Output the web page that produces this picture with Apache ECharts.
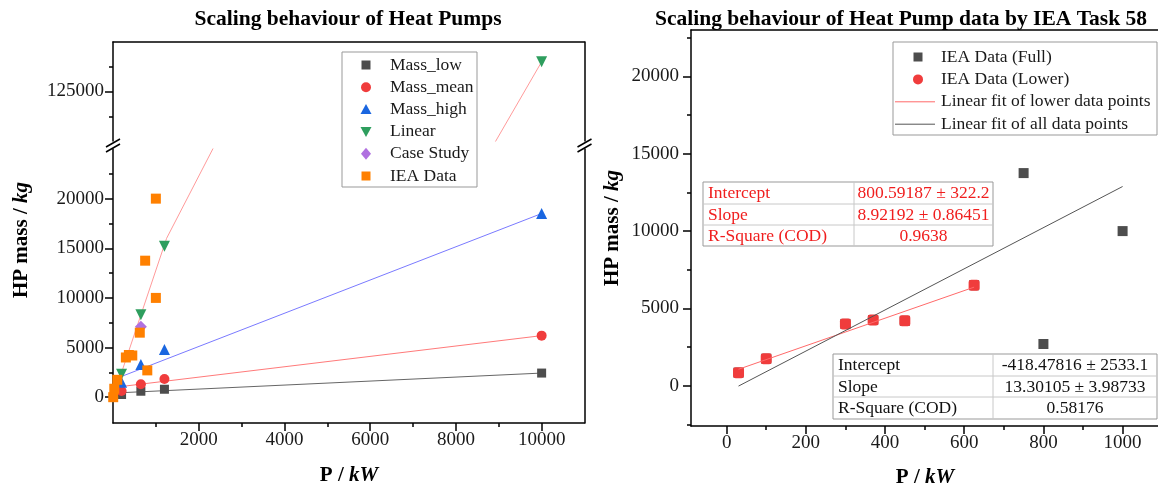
<!DOCTYPE html>
<html><head><meta charset="utf-8">
<script src="https://cdn.jsdelivr.net/npm/echarts@6.0.0/dist/echarts.min.js"></script>
<style>html,body{margin:0;padding:0;background:#fff}#c{width:1158px;height:493px}</style>
</head><body><div id="c"></div>
<script>
// ---------- data (left panel) ----------
const powerKW      = [200, 650, 1200, 10000];
const massLow      = [270, 600, 800, 2430];
const massMean     = [630, 1300, 1830, 6200];
const massHigh     = [1500, 3300, 4800, 18500];
const linearMass   = [2300, 8300, 15200, 131000];
const caseStudyP   = [650];
const caseStudyMass= [7100];
const ieaLeftP     = [5, 30, 100, 300, 370, 450, 625, 750, 800, 1000, 1000];
const ieaLeftMass  = [0, 850, 1750, 4000, 4250, 4200, 6500, 13750, 2700, 10000, 20000];
// fit lines (end points)
const lowFitP   = [30, 10000],  lowFitMass  = [420, 2430];
const meanFitP  = [30, 10000],  meanFitMass = [990, 6200];
const highFitP  = [140, 10000], highFitMass = [1990, 18500];
const linCurveP = [100, 1250, 2400, 8930, 10000];
const linCurveMass = [1200, 16000, 25600, 115000, 131000];
// ---------- data (right panel) ----------
const ieaFullP     = [30, 100, 300, 370, 450, 625, 750, 800, 1000];
const ieaFullMass  = [850, 1750, 4000, 4250, 4200, 6500, 13750, 2700, 10000];
const ieaLowerP    = [30, 100, 300, 370, 450, 625];
const ieaLowerMass = [850, 1750, 4000, 4250, 4200, 6500];
const lowerFitP = [30, 625],  lowerFitMass = [1068, 6376];
const allFitP   = [30, 1000], allFitMass   = [-19, 12882];
// ---------- text ----------
const leftTitle  = 'Scaling behaviour of Heat Pumps';
const rightTitle = 'Scaling behaviour of Heat Pump data by IEA Task 58';
const leftLegend  = ['Mass_low', 'Mass_mean', 'Mass_high', 'Linear', 'Case Study', 'IEA Data'];
const rightLegend = ['IEA Data (Full)', 'IEA Data (Lower)', 'Linear fit of lower data points', 'Linear fit of all data points'];
const tableRows = ['Intercept', 'Slope', 'R-Square (COD)'];
const tableLower = ['800.59187 \u00b1 322.2', '8.92192 \u00b1 0.86451', '0.9638'];
const tableAll   = ['-418.47816 \u00b1 2533.1', '13.30105 \u00b1 3.98733', '0.58176'];
// tick values
const leftXLabels = [2000, 4000, 6000, 8000, 10000];
const leftXMinor  = [1000, 3000, 5000, 7000, 9000];
const leftYLabels = [0, 5000, 10000, 15000, 20000];
const leftYMinor  = [2500, 7500, 12500, 17500, 22500];
const leftYUpperLabels = [125000];
const leftYUpperMinor  = [120000, 130000];
const rightXLabels = [0, 200, 400, 600, 800, 1000];
const rightXMinor  = [100, 300, 500, 700, 900];
const rightYLabels = [0, 5000, 10000, 15000, 20000];
const rightYMinor  = [-2500, 2500, 7500, 12500, 17500, 22500];

const FONT = '"Liberation Serif","Times New Roman",serif';
const TXT = '#1a1a1a';
const C = {low:'#4d4d4d', mean:'#f03c3c', high:'#1a66e0', lin:'#2e9e5e', cs:'#b070e0', iea:'#ff8000'};
const zip = (a, b) => a.map((v, i) => [v, b[i]]);

const AXW = 1.5;
function ax(extra) {
  return Object.assign({
    type: 'value', splitLine: {show: false},
    axisLine: {show: false, onZero: false},
    axisTick: {show: false}, axisLabel: {show: false}
  }, extra);
}
function mainAx(grid, pos, min, max, labels, margin) {
  return ax({gridIndex: grid, position: pos, min, max,
    axisLine: {show: true, onZero: false, lineStyle: {color: '#000', width: AXW}},
    axisTick: {show: true, length: 8, customValues: labels, lineStyle: {color: '#000', width: AXW}},
    axisLabel: {show: true, customValues: labels, fontFamily: FONT, fontSize: 19, color: TXT, margin,
      formatter: v => String(v)}});
}
function minorAx(grid, pos, min, max, vals) {
  return ax({gridIndex: grid, position: pos, min, max,
    axisTick: {show: true, length: 4, customValues: vals, lineStyle: {color: '#000', width: AXW}}});
}
function lineAx(grid, pos, min, max) {
  return ax({gridIndex: grid, position: pos, min, max,
    axisLine: {show: true, onZero: false, lineStyle: {color: '#000', width: AXW}}});
}

const xAxis = [
  lineAx(0, 'top', 0, 11000),                                  // 0 upper-left (top border)
  mainAx(1, 'bottom', 0, 11000, leftXLabels, 8),               // 1 lower-left
  minorAx(1, 'bottom', 0, 11000, leftXMinor),                  // 2
  mainAx(2, 'bottom', -90, 1100, rightXLabels, 8),             // 3 right
  minorAx(2, 'bottom', -90, 1100, rightXMinor),                // 4
  lineAx(2, 'top', -90, 1100)                                  // 5
];
const yAxis = [
  mainAx(0, 'left', 115000, 135000, leftYUpperLabels, 9),      // 0
  minorAx(0, 'left', 115000, 135000, leftYUpperMinor),         // 1
  lineAx(0, 'right', 115000, 135000),                          // 2
  mainAx(1, 'left', -2600, 25000, leftYLabels, 9),             // 3
  minorAx(1, 'left', -2600, 25000, leftYMinor),                // 4
  lineAx(1, 'right', -2600, 25000),                            // 5
  mainAx(2, 'left', -2600, 23000, rightYLabels, 12),           // 6
  minorAx(2, 'left', -2600, 23000, rightYMinor)                // 7
];

function fit(name, data, color, xi, yi, w) {
  return {type: 'line', name, data, xAxisIndex: xi, yAxisIndex: yi, symbol: 'none',
    lineStyle: {color, width: w || 1}, clip: true, silent: true, z: 2};
}
function sc(name, data, symbol, size, color, xi, yi, extra) {
  return Object.assign({type: 'scatter', name, data, xAxisIndex: xi, yAxisIndex: yi,
    symbol, symbolSize: size, itemStyle: {color, opacity: 1}, clip: true, silent: true, z: 3}, extra || {});
}

const series = [
  fit('lowFit',  zip(lowFitP, lowFitMass),   '#666666', 1, 3),
  fit('meanFit', zip(meanFitP, meanFitMass), '#ff7a7a', 1, 3),
  fit('highFit', zip(highFitP, highFitMass), '#7a7aff', 1, 3),
  fit('linCurve', zip(linCurveP, linCurveMass), '#ff9a9a', 1, 3),
  fit('linCurveU', zip(linCurveP, linCurveMass), '#ff9a9a', 0, 0),
  sc('Mass_low',  zip(powerKW, massLow),  'rect', 9, C.low, 1, 3),
  sc('Mass_mean', zip(powerKW, massMean), 'circle', 10, C.mean, 1, 3),
  sc('Mass_high', zip(powerKW, massHigh), 'triangle', 11, C.high, 1, 3),
  sc('Linear',    zip(powerKW, linearMass), 'triangle', 11, C.lin, 1, 3, {symbolRotate: 180}),
  sc('LinearU',   zip(powerKW, linearMass), 'triangle', 11, C.lin, 0, 0, {symbolRotate: 180}),
  sc('Case Study', zip(caseStudyP, caseStudyMass), 'diamond', 12, C.cs, 1, 3),
  sc('IEA Data',  zip(ieaLeftP, ieaLeftMass), 'rect', 10, C.iea, 1, 3, {z: 4}),
  // right panel
  sc('IEA Data (Full)',  zip(ieaFullP, ieaFullMass), 'rect', 10, '#4d4d4d', 3, 6),
  sc('IEA Data (Lower)', zip(ieaLowerP, ieaLowerMass), 'roundRect', 11, '#f03c3c', 3, 6),
  fit('Linear fit of lower data points', zip(lowerFitP, lowerFitMass), '#ff6a6a', 3, 6),
  fit('Linear fit of all data points',   zip(allFitP, allFitMass), '#555555', 3, 6)
];
series.forEach(s => { s.z = (s.type === 'line' && s.xAxisIndex === 3) ? 5 : s.z; });

// ---------- graphics ----------
const G = [];
function text(x, y, str, o) {
  o = o || {};
  const st = {text: str, fontFamily: FONT, fontSize: o.size || 17, fontWeight: o.weight || 'normal',
    fill: o.color || TXT, align: o.align || 'left', verticalAlign: 'middle',
    textAlign: o.align || 'left', textVerticalAlign: 'middle'};
  if (o.rich) st.rich = o.rich;
  G.push({type: 'text', x, y, rotation: o.rot || 0, style: st, z: 100, silent: true});
}
function seg(x1, y1, x2, y2, color, w) {
  G.push({type: 'line', shape: {x1, y1, x2, y2}, style: {stroke: color, lineWidth: w || 1}, z: 100, silent: true});
}
function box(x, y, w, h, stroke, fill) {
  G.push({type: 'rect', shape: {x, y, width: w, height: h}, style: {stroke: stroke, fill: fill || '#fff', lineWidth: 1}, z: 90, silent: true});
}
function sym(kind, cx, cy, color) {
  let el;
  if (kind === 'rect') el = {type: 'rect', shape: {x: cx - 4.5, y: cy - 4.5, width: 9, height: 9}};
  else if (kind === 'circle') el = {type: 'circle', shape: {cx, cy, r: 5}};
  else if (kind === 'up') el = {type: 'polygon', shape: {points: [[cx, cy - 5.5], [cx + 5.5, cy + 4.5], [cx - 5.5, cy + 4.5]]}};
  else if (kind === 'down') el = {type: 'polygon', shape: {points: [[cx - 5.5, cy - 4.5], [cx + 5.5, cy - 4.5], [cx, cy + 5.5]]}};
  else if (kind === 'diamond') el = {type: 'polygon', shape: {points: [[cx, cy - 6], [cx + 5, cy], [cx, cy + 6], [cx - 5, cy]]}};
  el.style = {fill: color}; el.z = 101; el.silent = true;
  G.push(el);
}

// titles
text(348, 19, leftTitle, {size: 21.5, weight: 'bold', align: 'center', color: '#000'});
text(901, 19, rightTitle, {size: 21.5, weight: 'bold', align: 'center', color: '#000'});
// axis names
const rich = {b: {fontFamily: FONT, fontSize: 21, fontWeight: 'bold', fill: '#000'},
              bi: {fontFamily: FONT, fontSize: 21, fontWeight: 'bold', fontStyle: 'italic', fill: '#000'}};
text(349, 476, '{b|P / }{bi|kW}', {align: 'center', rich});
text(925, 478, '{b|P / }{bi|kW}', {align: 'center', rich});
text(22, 240, '{b|HP mass / }{bi|kg}', {align: 'center', rich, rot: Math.PI / 2});
text(613, 228, '{b|HP mass / }{bi|kg}', {align: 'center', rich, rot: Math.PI / 2});

// axis break marks
[113, 584.5].forEach(x => {
  seg(x - 7, 147, x + 7, 139, '#000', 1.5);
  seg(x - 7, 152, x + 7, 144, '#000', 1.5);
});

// left legend
box(342, 52, 135, 135, '#999');
const lSyms = ['rect', 'circle', 'up', 'down', 'diamond', 'rect'];
const lCols = [C.low, C.mean, C.high, C.lin, C.cs, C.iea];
leftLegend.forEach((n, i) => {
  const y = 65 + i * 22.2;
  sym(lSyms[i], 366, y, lCols[i]);
  text(390, y, n, {size: 17.5});
});

// right legend
box(893, 42, 264, 93, '#999');
rightLegend.forEach((n, i) => {
  const y = 57 + i * 22.4;
  if (i === 0) sym('rect', 918, y, '#4d4d4d');
  else if (i === 1) sym('circle', 918, y, '#f03c3c');
  else seg(895, y, 935, y, i === 2 ? '#ff6a6a' : '#555', 1);
  text(941, y, n, {size: 17.5});
});

// tables
function table(x0, x1, x2, ys, vals, color) {
  box(x0, ys[0], x2 - x0, ys[3] - ys[0], '#999');
  seg(x1, ys[0], x1, ys[3], '#c8c8c8', 1);
  seg(x0, ys[1], x2, ys[1], '#c8c8c8', 1);
  seg(x0, ys[2], x2, ys[2], '#c8c8c8', 1);
  tableRows.forEach((r, i) => {
    const y = (ys[i] + ys[i + 1]) / 2 + 0.5;
    text(x0 + 5, y, r, {size: 17.5, color});
    text((x1 + x2) / 2, y, vals[i], {size: 17.5, color, align: 'center'});
  });
}
table(703, 854, 993, [182, 204, 225, 246], tableLower, '#f01e1e');
table(833, 993, 1157, [354, 376, 397, 419], tableAll, '#111');

const option = {
  animation: false,
  backgroundColor: '#fff',
  grid: [
    {left: 113, top: 42, width: 471.5, height: 99, outerBoundsMode: 'none', containLabel: false},
    {left: 113, top: 149, width: 471.5, height: 274, outerBoundsMode: 'none', containLabel: false},
    {left: 691, top: 30, width: 471.2, height: 396, outerBoundsMode: 'none', containLabel: false}
  ],
  xAxis, yAxis, series,
  graphic: {elements: G}
};
const chart = echarts.init(document.getElementById('c'));
chart.setOption(option);
</script>
</body></html>
